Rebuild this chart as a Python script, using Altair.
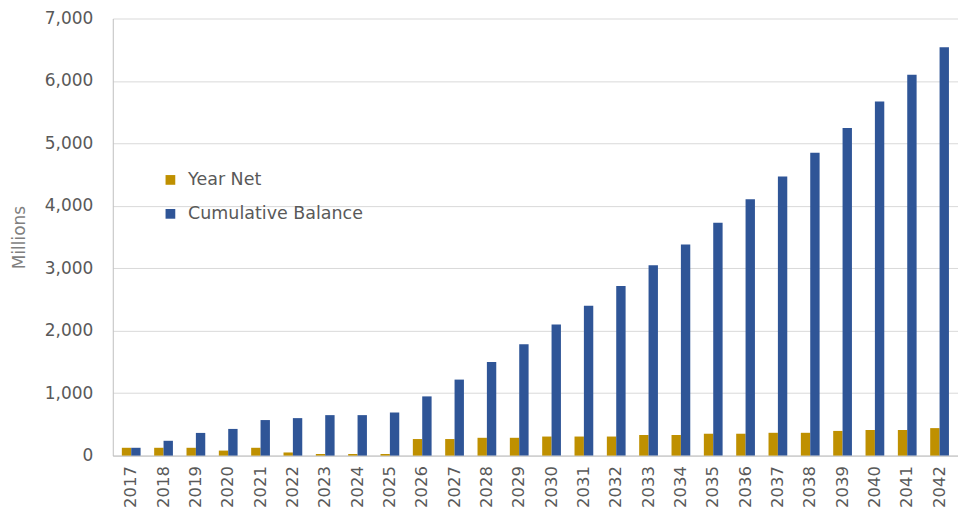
import altair as alt
import pandas as pd

years = [str(y) for y in range(2017, 2043)]
year_net = [125, 125, 125, 80, 125, 50, 25, 25, 25, 265, 265, 285, 285, 305, 305, 305,
            330, 330, 350, 350, 365, 365, 395, 410, 410, 440]
cumulative = [125, 237, 363, 427, 569, 600, 648, 648, 690, 948, 1217, 1500, 1785, 2100,
              2400, 2717, 3050, 3380, 3730, 4107, 4470, 4850, 5245, 5670, 6098, 6540]
series = ["Year Net", "Cumulative Balance"]
colors = ["#BF9000", "#2F5597"]

rows = []
for i, y in enumerate(years):
    rows.append({"Year": y, "Series": series[0], "Value": year_net[i]})
    rows.append({"Year": y, "Series": series[1], "Value": cumulative[i]})
df = pd.DataFrame(rows)

font = "DejaVu Sans"
chart = alt.Chart(df).mark_bar().encode(
    x=alt.X("Year:N", sort=years, title=None,
            scale=alt.Scale(paddingInner=0.42, paddingOuter=0.28),
            axis=alt.Axis(labelAngle=-90, labelFontSize=16.5, labelColor="#595959",
                          labelFont=font, ticks=False, domainColor="#BFBFBF",
                          labelPadding=10, labelBaseline="middle")),
    xOffset=alt.XOffset("Series:N", sort=series),
    y=alt.Y("Value:Q", title="Millions",
            scale=alt.Scale(domain=[0, 7000], nice=False),
            axis=alt.Axis(values=list(range(0, 7001, 1000)), format=",.0f",
                          labelFontSize=17, labelColor="#595959", labelFont=font,
                          titleFontSize=17, titleColor="#7F7F7F", titleFont=font,
                          titleFontWeight="normal", titlePadding=16,
                          ticks=False, domainColor="#BFBFBF", gridColor="#D9D9D9",
                          labelPadding=20)),
    color=alt.Color("Series:N", sort=series,
                    scale=alt.Scale(domain=series, range=colors),
                    legend=alt.Legend(title=None, orient="none", legendX=49, legendY=153,
                                      symbolType="square", symbolSize=95,
                                      labelFontSize=17.5, labelColor="#595959",
                                      labelFont=font, rowPadding=15, labelOffset=9,
                                      labelLimit=0, symbolStrokeWidth=0)),
).properties(
    width=847, height=438,
    autosize=alt.AutoSizeParams(type="none"),
    padding={"left": 105, "top": 10, "right": 0, "bottom": 55},
).configure_view(stroke=None)

chart.save("out.html", embed_options={"renderer": "svg", "actions": False})
